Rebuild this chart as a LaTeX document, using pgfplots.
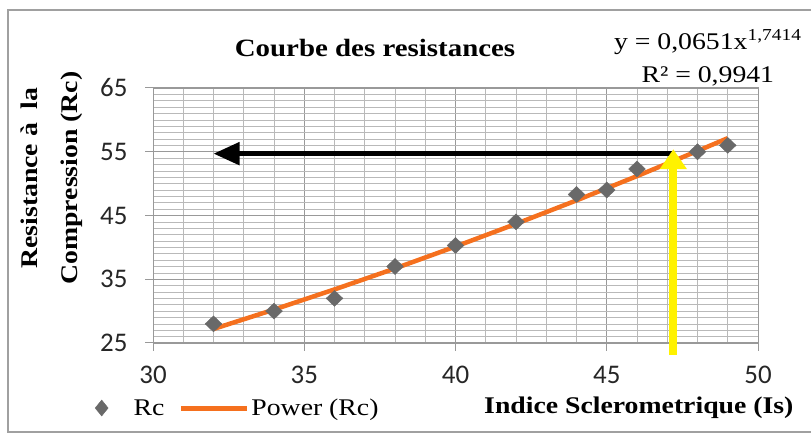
\documentclass[border=0pt]{standalone}
\usepackage{fontspec}
\setmainfont[FakeStretch=1.16]{Liberation Serif}
\newfontfamily\tickfont{Carlito}
\usepackage{pgfplots}
\pgfplotsset{compat=1.18}
\usetikzlibrary{arrows.meta}
\definecolor{markgray}{RGB}{105,105,105}
\definecolor{trendorange}{RGB}{245,112,30}
\definecolor{framegray}{RGB}{160,160,160}
\begin{document}
\begin{tikzpicture}[x=1bp,y=1bp]
\useasboundingbox (0,0) rectangle (811,435);
\draw[framegray, line width=1.5bp] (812,425) -- (8,425) -- (8,3) -- (812,3);
\begin{axis}[
  at={(153bp,92bp)}, anchor=south west,
  scale only axis, width=605bp, height=255bp,
  xmin=30, xmax=50, ymin=25, ymax=65,
  xtick={30,35,...,50}, ytick={25,35,...,65},
  minor x tick num=4, minor y tick num=9,
  grid=both,
  major grid style={draw=gray!80, line width=0.9bp},
  minor grid style={draw=gray!55, line width=0.7bp},
  axis line style={draw=gray!80, line width=1bp},
  tick style={draw=gray!80, line width=1bp},
  tick align=outside, major tick length=8bp, minor tick length=0bp,
  xtick pos=bottom, ytick pos=left,
  /pgf/number format/assume math mode=true,
  tick label style={font=\tickfont\fontsize{27}{27}\selectfont, text=black!85},
  xticklabel style={yshift=-12bp},
  yticklabel style={xshift=-14bp},
  clip=false,
  legend style={draw=none, fill=none, legend columns=2,
    at={(axis description cs:-0.105,-0.255)}, anchor=west,
    font=\fontsize{24}{24}\selectfont,
    /tikz/every even column/.append style={column sep=12bp}},
  legend cell align=left,
]
\addplot[only marks, mark=diamond*, mark size=8bp, color=markgray,
  mark options={xscale=1.4, fill=markgray, draw=markgray},
  legend image code/.code={\path[draw=none, fill=none] (-9bp,-6bp) rectangle (30bp,6bp);
    \fill[markgray] (0bp,8bp) -- (6.5bp,0bp) -- (0bp,-8bp) -- (-6.5bp,0bp) -- cycle;}]
  coordinates {(32,28) (34,30) (36,32) (38,37) (40,40.3) (42,44) (44,48.3) (45,49) (46,52.3) (48,55) (49,56)};
\addlegendentry{Rc}
\addplot[color=trendorange, line width=4.5bp, no marks,
  legend image code/.code={\draw[trendorange, line width=5bp] (0bp,0bp) -- (66bp,0bp);}]
  coordinates {(32,27.20) (34,30.24) (36,33.40) (38,36.69) (40,40.13) (42,43.69) (44,47.37) (46,51.18) (48,55.12) (49,57.13)};
\addlegendentry{Power (Rc)}
\draw[black, line width=5bp, -{Triangle[length=26bp,width=22bp]}] (axis cs:47.15,54.7) -- (axis cs:32,54.7);
\draw[yellow, line width=8bp, -{Triangle[length=20bp,width=26bp]}] (axis cs:47.2,23.1) -- (axis cs:47.2,55.4);
\node[font=\bfseries\fontsize{25}{25}\selectfont] at (axis description cs:0.367,1.157) {Courbe\ des\ resistances};
\node[align=center, font=\fontsize{24}{33}\selectfont] at (axis description cs:0.917,1.118) {y = 0,0651x\textsuperscript{1,7414}\\R² = 0,9941};
\node[font=\bfseries\fontsize{24}{24}\selectfont] at (axis description cs:0.803,-0.255) {Indice\ Sclerometrique\ (Is)};
\node[rotate=90, align=center, font=\bfseries\fontsize{24}{40}\selectfont] at (axis description cs:-0.167,0.647) {Resistance à\ \ la\\Compression (Rc)};
\end{axis}
\end{tikzpicture}
\end{document}
